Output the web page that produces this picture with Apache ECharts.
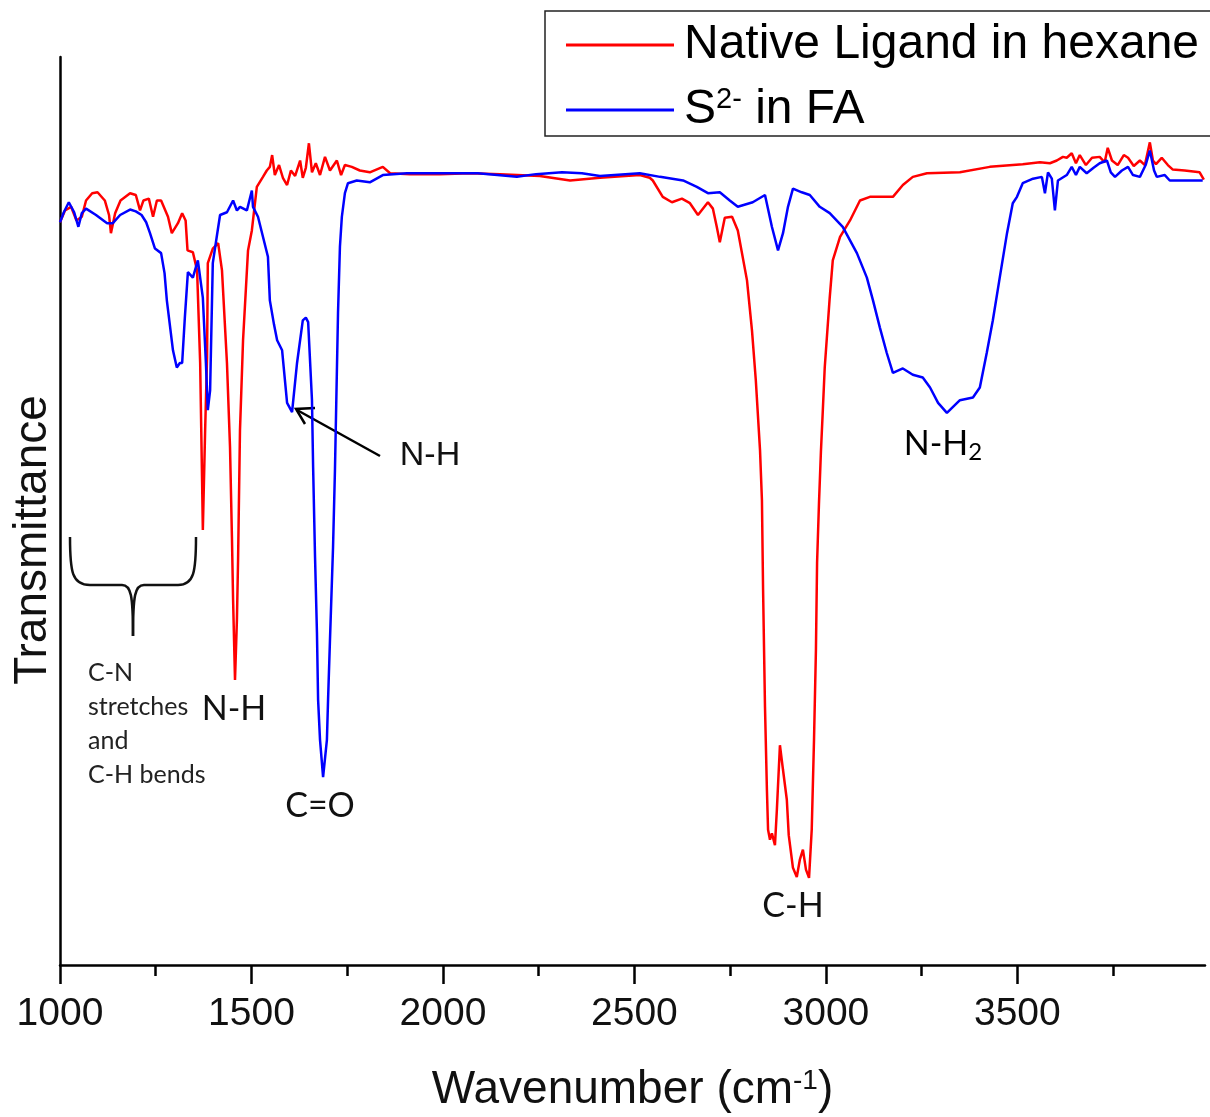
<!DOCTYPE html>
<html><head><meta charset="utf-8">
<script src="https://cdn.jsdelivr.net/npm/echarts@6/dist/echarts.min.js"></script>
<style>html,body{margin:0;padding:0;background:#fff}#c{width:1210px;height:1117px}</style>
</head><body><div id="c"></div>
<script>
// Native Ligand in hexane (red)
const redWavenumber = [1000,1013,1029,1043,1057,1068,1084,1098,1117,1128,1133,1144,1158,1183,1198,1209,1218,1232,1243,1253,1264,1282,1292,1308,1319,1328,1333,1347,1358,1366,1371,1373,1379,1384,1386,1399,1413,1423,1436,1444,1449,1452,1457,1462,1465,1470,1478,1491,1501,1514,1530,1540,1548,1554,1561,1572,1582,1593,1603,1614,1627,1634,1642,1650,1658,1668,1679,1692,1705,1723,1734,1744,1762,1783,1809,1843,1862,1914,1992,2071,2149,2253,2332,2410,2514,2540,2548,2574,2598,2624,2645,2666,2692,2705,2715,2723,2736,2755,2770,2794,2807,2817,2828,2833,2836,2841,2846,2849,2854,2859,2867,2872,2880,2888,2898,2903,2914,2924,2932,2940,2948,2956,2963,2969,2974,2977,2982,2987,2992,2997,3010,3018,3037,3063,3089,3115,3175,3201,3227,3264,3350,3428,3514,3559,3585,3603,3619,3629,3642,3653,3663,3679,3695,3715,3728,3736,3747,3762,3778,3789,3804,3820,3833,3846,3854,3862,3877,3893,3906,3937,3976,3987];
const redTransmittance = [81.8,83.1,83.5,82.0,82.4,84.2,85.0,85.1,84.2,82.6,80.6,82.8,84.2,85.0,84.8,83.1,84.2,84.4,82.4,84.2,84.2,82.4,80.6,81.7,82.8,82.0,78.7,78.5,76.5,66.3,53.4,47.9,58.9,66.9,77.3,78.9,79.5,76.5,66.3,57.0,47.1,40.2,31.4,38.0,44.6,58.9,68.8,78.7,80.9,85.7,86.8,87.5,87.9,89.2,87.0,88.1,86.7,85.9,87.5,86.9,88.6,86.7,87.8,90.5,87.3,88.3,87.0,89.0,87.5,88.6,87.0,88.1,87.9,87.5,87.3,87.9,87.2,87.1,87.1,87.2,87.1,86.9,86.4,86.7,87.0,86.7,86.4,84.6,84.0,84.4,83.9,82.6,84.0,83.3,81.3,79.6,82.3,82.4,80.9,75.4,69.9,64.4,56.7,51.2,41.3,28.4,19.3,14.9,13.8,14.5,13.2,17.1,24.2,21.5,18.2,14.3,10.7,9.7,11.6,12.7,10.5,9.6,14.9,24.8,34.7,44.3,50.9,56.5,61.1,65.8,73.5,77.6,80.2,82.0,84.2,84.6,84.6,85.9,86.8,87.2,87.3,87.9,88.2,88.4,88.3,88.6,89.0,88.9,89.4,88.3,89.2,88.1,88.9,89.0,88.4,90.0,88.6,88.1,89.2,88.9,88.0,88.6,88.1,90.6,88.6,88.2,88.9,88.1,87.6,87.5,87.3,86.5];
// S2- in FA (blue)
const blueWavenumber = [1000,1010,1023,1037,1048,1057,1068,1094,1123,1138,1157,1183,1198,1213,1225,1235,1248,1264,1273,1279,1295,1305,1313,1319,1326,1334,1347,1360,1373,1381,1386,1392,1399,1410,1418,1436,1452,1462,1470,1488,1501,1504,1517,1530,1543,1548,1559,1567,1580,1593,1606,1619,1634,1642,1648,1658,1661,1666,1671,1674,1679,1687,1697,1700,1705,1713,1718,1726,1731,1736,1744,1752,1775,1809,1843,1906,1992,2091,2193,2243,2311,2363,2410,2514,2567,2627,2663,2692,2723,2749,2770,2809,2841,2859,2875,2888,2901,2914,2937,2958,2984,3010,3044,3081,3107,3123,3141,3159,3175,3201,3227,3253,3272,3293,3316,3350,3384,3402,3420,3436,3454,3473,3488,3499,3514,3541,3564,3572,3580,3590,3598,3606,3629,3642,3653,3663,3681,3699,3715,3734,3744,3755,3773,3789,3802,3820,3835,3846,3857,3864,3885,3898,3943,3984];
const blueTransmittance = [81.8,82.9,84.0,82.9,81.3,82.8,83.3,82.6,81.7,81.7,82.6,83.2,83.0,82.6,81.8,80.6,78.9,78.4,76.2,73.2,67.7,65.8,66.3,66.3,71.3,76.3,75.7,77.6,73.5,66.3,61.1,63.3,77.3,80.4,82.6,82.9,84.2,83.1,83.5,83.1,85.3,83.5,82.4,80.2,78.0,73.2,70.5,68.8,67.7,61.9,60.9,66.3,71.0,71.3,70.8,62.2,54.8,44.9,36.6,29.2,24.8,20.7,24.8,29.2,35.8,46.0,54.5,71.8,79.1,82.4,85.0,86.1,86.4,86.2,87.0,87.2,87.2,87.2,86.8,87.1,87.3,87.2,86.9,87.2,86.8,86.4,85.7,85.0,85.1,84.2,83.5,84.0,84.8,81.3,78.7,80.6,83.5,85.5,85.1,84.8,83.5,82.8,81.3,78.4,75.7,73.2,70.2,67.4,65.2,65.7,65.0,64.7,63.6,61.9,60.8,62.2,62.5,63.6,67.4,71.0,75.7,80.6,83.9,84.6,86.1,86.6,86.8,85.0,87.3,86.6,83.1,86.4,87.0,87.9,87.0,87.9,87.2,87.8,88.3,88.6,87.3,86.8,87.5,87.9,87.0,86.8,88.1,89.7,87.5,86.8,87.0,86.4,86.4,86.4];

const seriesNames = ['Native Ligand in hexane', 'S²⁻ in FA'];
const majorTicks = [1000, 1500, 2000, 2500, 3000, 3500];
const minorTicks = [1250, 1750, 2250, 2750, 3250, 3750];

const zip = (xs, ys) => xs.map((x, i) => [x, ys[i]]);
const ARIAL = "'Liberation Sans', Arial, sans-serif";
const CALI = "Lato, 'Open Sans', sans-serif";
const K = {stroke: '#111', lineWidth: 2.5, fill: 'none'};

const chart = echarts.init(document.getElementById('c'), null, {renderer: 'canvas'});
chart.setOption({
  animation: false,
  backgroundColor: '#fff',
  grid: {left: 60, right: 5, top: 57, bottom: 152, containLabel: false, outerBoundsMode: 'none'},
  xAxis: [{
    type: 'value', min: 1000, max: 3990,
    axisLine: {show: true, lineStyle: {color: '#000', width: 2.5}},
    axisTick: {show: true, customValues: majorTicks, length: 19, lineStyle: {color: '#000', width: 2.5}},
    axisLabel: {show: true, customValues: majorTicks, margin: 30, fontSize: 39, fontFamily: ARIAL, color: '#111',
      formatter: v => String(v)},
    splitLine: {show: false},
    name: 'Wavenumber (cm{sup|-1})', nameLocation: 'middle', nameGap: 102,
    nameTextStyle: {fontSize: 46, fontFamily: ARIAL, color: '#111',
      rich: {sup: {fontSize: 28, fontFamily: ARIAL, color: '#111', verticalAlign: 'top', lineHeight: 26}}}
  }, {
    type: 'value', min: 1000, max: 3990, position: 'bottom',
    axisLine: {show: false},
    axisTick: {show: true, customValues: minorTicks, length: 11, lineStyle: {color: '#000', width: 2.5}},
    axisLabel: {show: false}, splitLine: {show: false}
  }],
  yAxis: {
    type: 'value', min: 0, max: 100,
    axisLine: {show: true, lineStyle: {color: '#000', width: 2.5}},
    axisTick: {show: false}, axisLabel: {show: false}, splitLine: {show: false}
  },
  legend: {
    data: seriesNames, orient: 'vertical', left: 561, top: 15,
    icon: 'rect', itemWidth: 108, itemHeight: 3, itemGap: 15,
    formatter: n => n === seriesNames[1] ? '{n|S}{sup|2-}{n| in FA}' : '{n|' + n + '}',
    textStyle: {fontSize: 48, fontFamily: ARIAL, color: '#000', lineHeight: 50, padding: [0, 0, 0, 5],
      rich: {
        n: {fontSize: 48, fontFamily: ARIAL, color: '#000', lineHeight: 50},
        sup: {fontSize: 29, fontFamily: ARIAL, color: '#000', verticalAlign: 'top', lineHeight: 26}
      }}
  },
  series: [{
    name: seriesNames[0], type: 'line', data: zip(redWavenumber, redTransmittance),
    showSymbol: false, symbol: 'none', color: '#ff0000', lineStyle: {color: '#ff0000', width: 2.5}
  }, {
    name: seriesNames[1], type: 'line', data: zip(blueWavenumber, blueTransmittance),
    showSymbol: false, symbol: 'none', color: '#0000ff', lineStyle: {color: '#0000ff', width: 2.5}
  }],
  graphic: [
    {type: 'rect', shape: {x: 545, y: 11, width: 700, height: 125}, style: {fill: 'none', stroke: '#222', lineWidth: 1.5}, z: 1},
    {type: 'text', x: 33, y: 540, rotation: Math.PI / 2,
      style: {text: 'Transmittance', x: 0, y: 0, textAlign: 'center', textVerticalAlign: 'middle', verticalAlign: 'middle', font: '46px ' + ARIAL, fill: '#111'}},
    // arrow N-H
    {type: 'line', shape: {x1: 380, y1: 456, x2: 297, y2: 410}, style: {stroke: '#000', lineWidth: 2.5}},
    {type: 'polyline', shape: {points: [[315, 408], [296, 409], [305, 424]]}, style: {stroke: '#000', lineWidth: 2.5, fill: 'none'}},
    {type: 'text', style: {text: 'N-H', x: 430, y: 456, textAlign: 'center', textVerticalAlign: 'middle', verticalAlign: 'middle', font: '34px ' + ARIAL, fill: '#111'}},
    // brace
    {type: 'bezierCurve', shape: {x1: 70, y1: 537, cpx1: 70, cpy1: 572, cpx2: 72, cpy2: 585, x2: 90, y2: 585}, style: K},
    {type: 'line', shape: {x1: 90, y1: 585, x2: 122, y2: 585}, style: K},
    {type: 'bezierCurve', shape: {x1: 122, y1: 585, cpx1: 131, cpy1: 585, cpx2: 133, cpy2: 595, x2: 133, y2: 636}, style: K},
    {type: 'bezierCurve', shape: {x1: 133, y1: 636, cpx1: 133, cpy1: 595, cpx2: 135, cpy2: 585, x2: 144, y2: 585}, style: K},
    {type: 'line', shape: {x1: 144, y1: 585, x2: 178, y2: 585}, style: K},
    {type: 'bezierCurve', shape: {x1: 178, y1: 585, cpx1: 194, cpy1: 585, cpx2: 196, cpy2: 572, x2: 196, y2: 537}, style: K},
    {type: 'text', style: {text: 'C-N\nstretches\nand\nC-H bends', x: 88, y: 656, textAlign: 'left', textVerticalAlign: 'top', verticalAlign: 'top', font: '25px ' + CALI, lineHeight: 34, fill: '#222'}},
    {type: 'text', style: {text: 'N-H', x: 234, y: 709, textAlign: 'center', textVerticalAlign: 'middle', verticalAlign: 'middle', font: '34px ' + CALI, fill: '#111'}},
    {type: 'text', style: {text: 'C=O', x: 320, y: 806, textAlign: 'center', textVerticalAlign: 'middle', verticalAlign: 'middle', font: '34px ' + CALI, fill: '#111'}},
    {type: 'text', style: {text: 'C-H', x: 793, y: 906, textAlign: 'center', textVerticalAlign: 'middle', verticalAlign: 'middle', font: '34px ' + CALI, fill: '#111'}},
    {type: 'text', style: {text: '{a|N-H}{s|2}', x: 943, y: 444, textAlign: 'center', textVerticalAlign: 'middle', verticalAlign: 'middle',
      rich: {a: {fontSize: 34, fontFamily: CALI, color: '#111', lineHeight: 40}, s: {fontSize: 24, fontFamily: CALI, color: '#111', verticalAlign: 'bottom', lineHeight: 24}}}}
  ]
});
</script></body></html>
